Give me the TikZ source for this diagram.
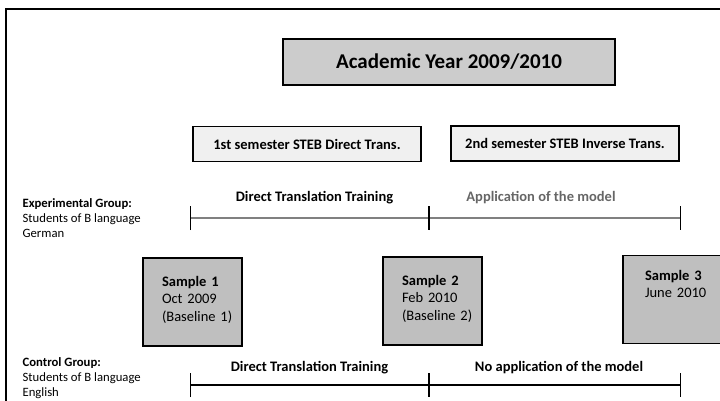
\documentclass[tikz,border=0pt]{standalone}
\usepackage{fontspec}
\setmainfont{Carlito}
\usetikzlibrary{arrows.meta}
\begin{document}
\begin{tikzpicture}[x=1pt, y=-1pt, line width=1.2pt,
    year box/.style={draw, fill=black!20, minimum width=332pt, minimum height=46pt,
                     font=\fontsize{21}{25}\selectfont\bfseries},
    semester box/.style={draw, fill=black!6, minimum width=228pt, minimum height=35pt,
                     font=\fontsize{14.5}{17}\selectfont\bfseries},
    sample box/.style={draw, fill=black!25, minimum width=99pt, minimum height=88pt,
                     text width=61pt, inner xsep=19pt, text depth=42pt, align=left,
                     font=\fontsize{14.5}{17.5}\selectfont},
    group label/.style={anchor=west, inner sep=0pt, align=left,
                     font=\fontsize{12.7}{15}\selectfont},
    tick/.tip={Bar[width=24pt, line width=1.2pt, color=black]},
    timeline/.style={tick-tick},
    phase label/.style={yshift=20pt, text=black, font=\fontsize{14.5}{17}\selectfont\bfseries}]

  \useasboundingbox (0,0) rectangle (720,401);

  % frame
  \draw[line width=1.3pt] (720,9) -- (6,9) -- (6,401);

  \node[year box] (year) at (449,62) {Academic Year 2009/2010};
  \node[semester box] (sem1) at (307,144) {1st semester STEB Direct Trans.};
  \node[semester box] (sem2) at (565,143.5) {2nd semester STEB Inverse Trans.};

  \node[group label] (exp) at (22,218) {\textbf{Experimental Group:}\\Students of B language\\German};
  \node[group label] (ctl) at (22,378) {\textbf{Control Group:}\\Students of B language\\English};

  \node[sample box] (s1) at (192.5,302) {\mbox{\textbf{Sample 1}}\\\mbox{Oct 2009}\\\mbox{(Baseline 1)}};
  \node[sample box] (s2) at (432.5,301) {\mbox{\textbf{Sample 2}}\\\mbox{Feb 2010}\\\mbox{(Baseline 2)}};
  \node[sample box, text depth=49pt, inner xsep=22pt, text width=55pt] (s3) at (672.5,299.5) {\mbox{\textbf{Sample 3}}\\\mbox{June 2010}};

  \coordinate (e1) at (190,218);
  \coordinate (e2) at (429,218);
  \coordinate (e3) at (681,218);
  \coordinate (c1) at (190,385);
  \coordinate (c2) at (429,385);
  \coordinate (c3) at (681,385);

  \path[every edge/.append style={timeline}]
  (e1) edge[black!50, line width=2pt] node[phase label, xshift=5pt] {Direct Translation Training} (e2)
  (e2) edge[black!50, line width=2pt] node[phase label, xshift=-14pt, text=black!60] {Application of the model} (e3)
  (c1) edge[black] node[phase label, yshift=-3pt] {Direct Translation Training} (c2)
  (c2) edge[black] node[phase label, xshift=4pt, yshift=-3pt] {No application of the model} (c3);

\end{tikzpicture}
\end{document}
